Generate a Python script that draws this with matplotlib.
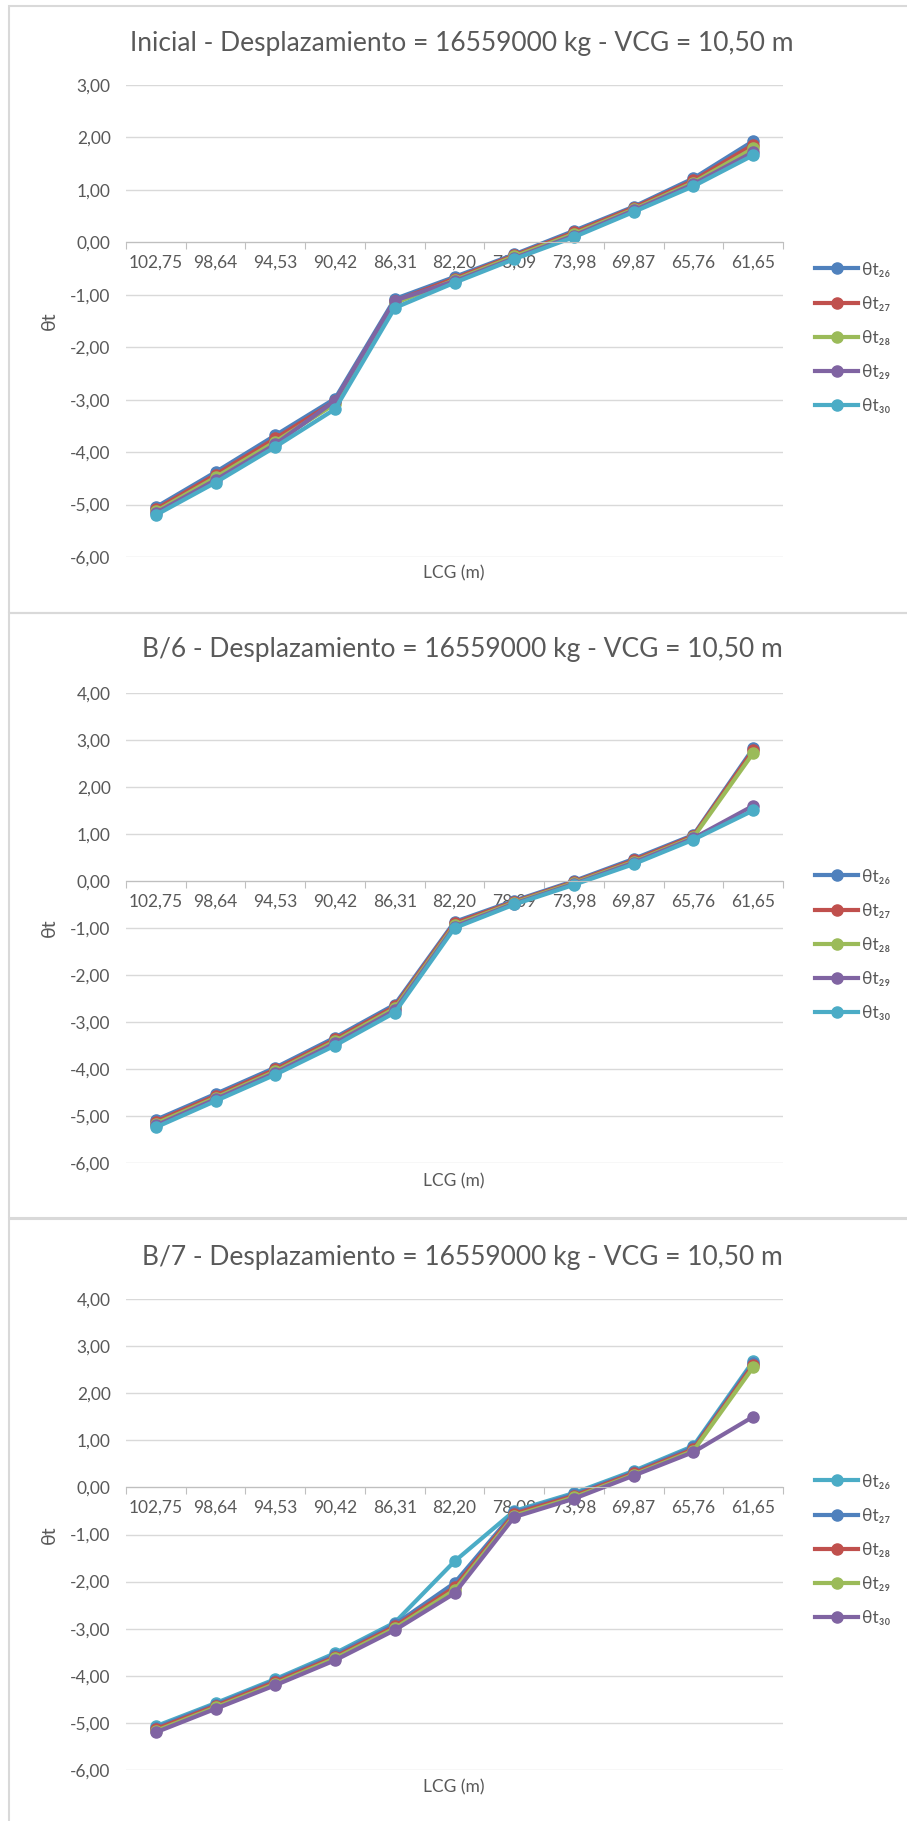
import matplotlib
matplotlib.use("Agg")
import matplotlib.pyplot as plt
from matplotlib.patches import Rectangle

plt.rcParams['font.family'] = ['Lato', 'DejaVu Sans']

lcg = ['102,75', '98,64', '94,53', '90,42', '86,31', '82,20',
       '78,09', '73,98', '69,87', '65,76', '61,65']

# Inicial
ini_26 = [-5.05, -4.38, -3.68, -2.98, -1.08, -0.66, -0.23, 0.22, 0.68, 1.22, 1.93]
ini_27 = [-5.09, -4.43, -3.74, -3.03, -1.12, -0.69, -0.25, 0.19, 0.66, 1.18, 1.86]
ini_28 = [-5.13, -4.48, -3.80, -3.08, -1.16, -0.72, -0.27, 0.16, 0.63, 1.14, 1.79]
ini_29 = [-5.16, -4.53, -3.85, -3.02, -1.11, -0.74, -0.30, 0.13, 0.61, 1.11, 1.72]
ini_30 = [-5.20, -4.58, -3.90, -3.18, -1.25, -0.77, -0.32, 0.10, 0.58, 1.07, 1.66]

# B/6
b6_26 = [-5.08, -4.53, -3.97, -3.33, -2.63, -0.87, -0.42, 0.00, 0.47, 0.98, 2.82]
b6_27 = [-5.12, -4.57, -4.01, -3.37, -2.67, -0.90, -0.44, -0.02, 0.44, 0.96, 2.78]
b6_28 = [-5.16, -4.61, -4.05, -3.41, -2.71, -0.94, -0.46, -0.04, 0.41, 0.93, 2.72]
b6_29 = [-5.20, -4.64, -4.08, -3.45, -2.75, -0.97, -0.48, -0.06, 0.39, 0.91, 1.60]
b6_30 = [-5.24, -4.68, -4.12, -3.50, -2.80, -1.00, -0.50, -0.08, 0.36, 0.88, 1.50]

# B/7
b7_26 = [-5.07, -4.58, -4.07, -3.52, -2.87, -1.57, -0.50, -0.12, 0.35, 0.88, 2.68]
b7_27 = [-5.10, -4.61, -4.10, -3.56, -2.91, -2.03, -0.53, -0.15, 0.32, 0.85, 2.64]
b7_28 = [-5.13, -4.64, -4.13, -3.60, -2.95, -2.12, -0.56, -0.18, 0.30, 0.81, 2.60]
b7_29 = [-5.17, -4.67, -4.17, -3.63, -2.99, -2.18, -0.60, -0.21, 0.27, 0.78, 2.55]
b7_30 = [-5.20, -4.70, -4.20, -3.67, -3.03, -2.25, -0.63, -0.24, 0.25, 0.75, 1.50]

etiquetas = ['θt₂₆', 'θt₂₇', 'θt₂₈', 'θt₂₉', 'θt₃₀']

azul = '#4F81BD'
rojo = '#C0504D'
verde = '#9BBB59'
violeta = '#8064A2'
celeste = '#4BACC6'
gris = '#595959'

paneles = [
    ('Inicial - Desplazamiento = 16559000 kg - VCG = 10,50 m',
     [ini_26, ini_27, ini_28, ini_29, ini_30],
     [azul, rojo, verde, violeta, celeste], (-6, 3),
     6, 613, 85, 557, 43, 573, 338),
    ('B/6 - Desplazamiento = 16559000 kg - VCG = 10,50 m',
     [b6_26, b6_27, b6_28, b6_29, b6_30],
     [azul, rojo, verde, violeta, celeste], (-6, 4),
     613, 1218, 693, 1163, 650, 1181, 945),
    ('B/7 - Desplazamiento = 16559000 kg - VCG = 10,50 m',
     [b7_26, b7_27, b7_28, b7_29, b7_30],
     [celeste, azul, rojo, verde, violeta], (-6, 4),
     1219, 1830, 1299, 1770, 1257, 1787, 1550),
]

W, H = 907, 1821
fig = plt.figure(figsize=(W / 100, H / 100), dpi=100)
fig.patch.set_facecolor('white')

x = list(range(len(lcg)))

for (titulo, series, colores, ylim, caja_top, caja_bot, ax_top, ax_bot,
     y_tit, y_xlab, y_leg) in paneles:

    fig.add_artist(Rectangle((9 / W, 1 - caja_bot / H), (W - 8) / W,
                             (caja_bot - caja_top) / H, transform=fig.transFigure,
                             fill=False, edgecolor='#D9D9D9', lw=1.5))

    ax = fig.add_axes([126 / W, 1 - ax_bot / H, 657 / W, (ax_bot - ax_top) / H])
    ax.set_axisbelow(True)

    for serie, color, etiqueta in zip(series, colores, etiquetas):
        ax.plot(x, serie, color=color, lw=3, marker='o', markersize=8,
                label=etiqueta)

    ax.set_xlim(-0.5, len(lcg) - 0.5)
    ax.set_ylim(*ylim)
    ax.set_yticks(range(ylim[0], ylim[1] + 1))
    ax.set_yticklabels([('%.2f' % v).replace('.', ',') for v in range(ylim[0], ylim[1] + 1)])
    ax.grid(axis='y', color='#D9D9D9', lw=1)

    for lado in ['top', 'right', 'left']:
        ax.spines[lado].set_visible(False)
    ax.spines['bottom'].set_position(('data', 0))
    ax.spines['bottom'].set_color('#BFBFBF')

    ax.set_xticks([i - 0.5 for i in range(len(lcg) + 1)])
    ax.set_xticklabels([])
    ax.set_xticks(x, minor=True)
    ax.set_xticklabels(lcg, minor=True)
    ax.tick_params(axis='x', which='major', length=5, color='#BFBFBF')
    ax.tick_params(axis='x', which='minor', length=0, pad=9, labelsize=12.5,
                   labelcolor=gris)
    ax.tick_params(axis='y', length=0, pad=11, labelsize=12.5, labelcolor=gris)

    fig.text(462 / W, 1 - y_tit / H, titulo, ha='center', va='center',
             fontsize=19, color=gris)
    fig.text(454 / W, 1 - y_xlab / H, 'LCG (m)', ha='center', va='center',
             fontsize=12.5, color=gris)
    fig.text(49 / W, 1 - (ax_top + ax_bot) / 2 / H, 'θt', ha='center',
             va='center', rotation=90, fontsize=14, color=gris)

    ax.legend(loc='center left', bbox_to_anchor=(815 / W, 1 - y_leg / H),
              bbox_transform=fig.transFigure, frameon=False, fontsize=12.5,
              labelcolor=gris, handlelength=2.5, handletextpad=0.2,
              labelspacing=1.05, borderpad=0, borderaxespad=0)

fig.savefig('out.png', dpi=100, facecolor='white')
